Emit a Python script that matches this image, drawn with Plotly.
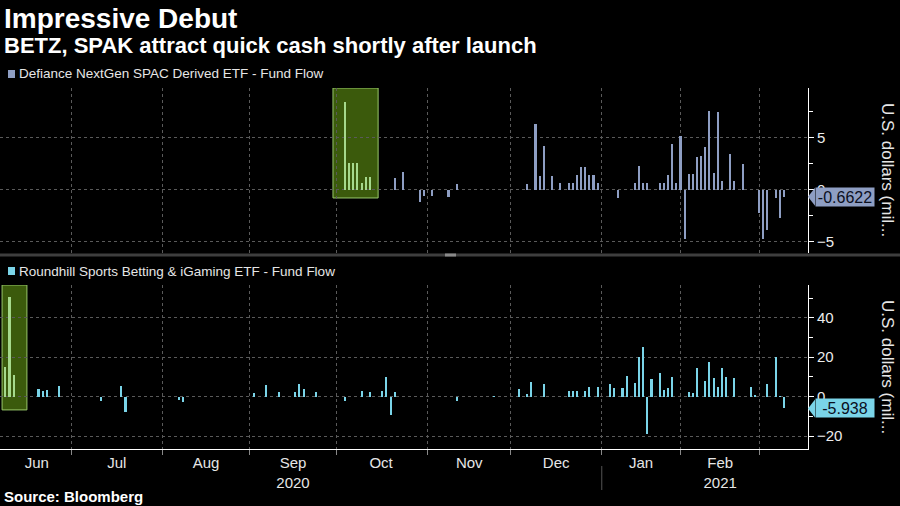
import plotly.graph_objects as go

# ---------------- data ----------------
spak_dates = ["2020-10-05", "2020-10-06", "2020-10-07", "2020-10-08", "2020-10-09", "2020-10-12",
              "2020-10-13", "2020-10-21", "2020-10-23", "2020-10-29", "2020-10-30", "2020-11-03",
              "2020-11-09", "2020-11-11", "2020-12-07", "2020-12-09", "2020-12-10", "2020-12-11",
              "2020-12-15", "2020-12-17", "2020-12-21", "2020-12-22", "2020-12-23", "2020-12-24",
              "2020-12-28", "2020-12-29", "2020-12-30", "2020-12-31", "2021-01-08", "2021-01-14",
              "2021-01-15", "2021-01-19", "2021-01-20", "2021-01-25", "2021-01-26", "2021-01-27",
              "2021-01-28", "2021-01-29", "2021-02-01", "2021-02-02", "2021-02-03", "2021-02-04",
              "2021-02-05", "2021-02-08", "2021-02-09", "2021-02-10", "2021-02-11", "2021-02-12",
              "2021-02-16", "2021-02-18", "2021-02-19", "2021-02-23", "2021-03-01", "2021-03-02",
              "2021-03-03", "2021-03-05", "2021-03-08", "2021-03-09"]
spak_flow = [8.49, 2.57, 2.57, 2.57, 0.64, 1.28,
             1.28, 1.18, 1.76, -1.12, -0.58, -0.58,
             -0.64, 0.55, 0.58, 6.35, 1.38, 4.23,
             1.38, 0.67, 0.67, 0.67, 1.44, 2.21,
             2.21, 1.44, 1.44, 0.67, -0.74, 0.67,
             2.31, 0.67, 0.67, 0.67, 0.67, 1.44,
             4.42, 0.67, 5.22, -4.71, 1.51, 1.51,
             3.20, 3.27, 4.13, 7.60, 1.60, 7.53,
             0.84, 3.43, 0.84, 2.50, -2.24, -4.71,
             -3.85, -0.74, -2.72, -0.6622]

betz_dates = ["2020-06-09", "2020-06-10", "2020-06-11", "2020-06-19", "2020-06-22", "2020-06-23",
              "2020-06-26", "2020-07-13", "2020-07-20", "2020-07-21", "2020-08-07", "2020-08-10",
              "2020-09-02", "2020-09-08", "2020-09-11", "2020-09-17", "2020-09-18", "2020-09-21",
              "2020-09-24", "2020-10-05", "2020-10-09", "2020-10-13", "2020-10-16", "2020-10-19",
              "2020-10-20", "2020-10-21", "2020-11-11", "2020-11-24", "2020-12-03", "2020-12-07",
              "2020-12-08", "2020-12-11", "2020-12-21", "2020-12-22", "2020-12-23", "2020-12-28",
              "2020-12-29", "2020-12-31", "2021-01-06", "2021-01-07", "2021-01-11", "2021-01-12",
              "2021-01-14", "2021-01-15", "2021-01-19", "2021-01-20", "2021-01-21", "2021-01-25",
              "2021-01-26", "2021-01-27", "2021-01-28", "2021-02-03", "2021-02-04", "2021-02-05",
              "2021-02-09", "2021-02-10", "2021-02-11", "2021-02-12", "2021-02-16", "2021-02-17",
              "2021-02-19", "2021-02-25", "2021-02-26", "2021-03-03", "2021-03-05", "2021-03-08",
              "2021-03-09"]
betz_flow = [14.8, 50.5, 11.1, 4.05, 3.0, 3.4,
             5.2, -2.4, 5.5, -8.0, -1.7, -2.9,
             1.8, 6.0, 2.4, 2.2, 6.4, 4.05,
             2.2, -2.4, 3.0, 2.4, 3.0, 10.0,
             -9.5, 2.5, -2.4, 0.3, 3.7, 1.4,
             7.4, 6.5, 3.0, 3.0, 3.0, 3.0,
             4.8, 4.8, 6.3, 4.3, 4.3, 10.5,
             6.8, 20.0, 25.2, -18.9, 9.0, 11.9,
             3.2, 4.4, 10.1, 2.5, 1.7, 14.3,
             7.9, 17.4, 9.4, 4.9, 14.3, 9.8,
             9.4, 4.9, 0.85, 6.6, 20.1, 0.3,
             -5.938]

spak_last = "-0.6622"
betz_last = "-5.938"

holidays = ["2020-07-03", "2020-09-07", "2020-11-26", "2020-12-25",
            "2021-01-01", "2021-01-18", "2021-02-15"]
month_starts = ["2020-07-01", "2020-08-03", "2020-09-01", "2020-10-01", "2020-11-02",
                "2020-12-01", "2021-01-04", "2021-02-01", "2021-03-01"]
month_label_pos = ["2020-06-18 14:00", "2020-07-16 22:00", "2020-08-17 11:00", "2020-09-16 11:00",
                   "2020-10-15 17:00", "2020-11-16 00:00", "2020-12-16 00:00", "2021-01-15 12:00",
                   "2021-02-12 14:00"]
month_labels = ["Jun", "Jul", "Aug", "Sep<br>2020", "Oct", "Nov", "Dec", "Jan", "Feb<br>2021"]

spak_highlight = ("2020-09-30 02:24", "2020-10-15 00:00")
betz_highlight = ("2020-06-08 05:00", "2020-06-16 05:00")

# ---------------- layout helpers ----------------
W, H = 900, 506
ML, MR, MT, MB = 0, 92, 88, 57
PW = W - ML - MR
PH = H - MT - MB


def px(x):
    return (x - ML) / PW


def py(y):
    return (H - MB - y) / PH


BG = "#000000"
GRID = "#5a5a5a"
SPAK_C = "#8e9ec3"
BETZ_C = "#7ad4e8"
HL_BAR = "#a6d98c"
HL_FILL = "#3b5a0c"
HL_LINE = "#98c86a"
FONT = "Liberation Sans, Arial, sans-serif"
DAY_MS = 86400000

x_range = ["2020-06-05 17:00", "2021-03-16 19:00"]
rb = [dict(bounds=["sat", "mon"]), dict(values=holidays)]


def colors(dates, window, base):
    return [HL_BAR if window[0] <= d <= window[1] else base for d in dates]


fig = go.Figure()
fig.add_trace(go.Bar(x=spak_dates, y=spak_flow, xaxis="x", yaxis="y",
                     marker=dict(color=colors(spak_dates, spak_highlight, SPAK_C), line_width=0),
                     width=0.5 * DAY_MS, showlegend=False))
fig.add_trace(go.Bar(x=betz_dates, y=betz_flow, xaxis="x2", yaxis="y2",
                     marker=dict(color=colors(betz_dates, betz_highlight, BETZ_C), line_width=0),
                     width=0.5 * DAY_MS, showlegend=False))

yaxis_common = dict(side="right", showline=True, linecolor="#ffffff", linewidth=1,
                    ticks="outside", ticklen=5, tickcolor="#ffffff",
                    tickfont=dict(family=FONT, size=15, color="#ececec"),
                    showgrid=True, gridcolor=GRID, griddash="dot", gridwidth=1,
                    zeroline=False, fixedrange=True)

fig.update_layout(
    width=W, height=H, paper_bgcolor=BG, plot_bgcolor=BG,
    margin=dict(l=ML, r=MR, t=MT, b=MB),
    bargap=0, showlegend=False,
    xaxis=dict(domain=[0, 1], anchor="y", type="date", range=x_range, rangebreaks=rb,
               tickmode="array", tickvals=month_starts, showticklabels=False, ticks="",
               showgrid=True, gridcolor=GRID, griddash="dot", zeroline=False, showline=False),
    xaxis2=dict(domain=[0, 1], anchor="y2", type="date", range=x_range, rangebreaks=rb,
                matches="x",
                tickmode="array", tickvals=month_label_pos, ticktext=month_labels, ticks="",
                tickfont=dict(family=FONT, size=15, color="#e6e6e6"),
                showgrid=False, zeroline=False,
                showline=True, linecolor="#ffffff", linewidth=1,
                minor=dict(tickmode="array", tickvals=month_starts, ticks="outside", ticklen=5,
                           tickcolor="#888888", showgrid=True, gridcolor=GRID, griddash="dot")),
    yaxis=dict(domain=[py(253), 1], anchor="x", range=[-6.06, 9.8],
               tickmode="array", tickvals=[-5, 0, 5],
               minor=dict(dtick=2.5, ticks="outside", ticklen=4, tickcolor="#ffffff", showgrid=False),
               **yaxis_common),
    yaxis2=dict(domain=[0, py(285)], anchor="x2", range=[-26.5, 56.6],
                tickmode="array", tickvals=[-20, 0, 20, 40],
                minor=dict(dtick=10, ticks="outside", ticklen=4, tickcolor="#ffffff", showgrid=False),
                **yaxis_common),
)

shapes = []
# highlight boxes
shapes.append(dict(type="rect", xref="x", yref="y", x0=spak_highlight[0], x1=spak_highlight[1],
                   y0=-0.77, y1=9.8, fillcolor=HL_FILL, line=dict(color=HL_LINE, width=1),
                   layer="below"))
shapes.append(dict(type="rect", xref="x2", yref="y2", x0=betz_highlight[0], x1=betz_highlight[1],
                   y0=-6.7, y1=56.6, fillcolor=HL_FILL, line=dict(color=HL_LINE, width=1),
                   layer="below"))
# separator between panels
shapes.append(dict(type="line", xref="paper", yref="paper", x0=0, x1=px(900), y0=py(255), y1=py(255),
                   line=dict(color="#3e3e3e", width=3)))
shapes.append(dict(type="line", xref="paper", yref="paper", x0=px(445), x1=px(456), y0=py(255), y1=py(255),
                   line=dict(color="#8a8a8a", width=3)))
# year divider
shapes.append(dict(type="line", xref="x2", yref="paper", x0="2021-01-04", x1="2021-01-04",
                   y0=py(466), y1=py(490), line=dict(color="#555555", width=1)))
# legend squares
shapes.append(dict(type="rect", xref="paper", yref="paper", x0=px(8), x1=px(15), y0=py(78), y1=py(70),
                   fillcolor=SPAK_C, line_width=0))
shapes.append(dict(type="rect", xref="paper", yref="paper", x0=px(8), x1=px(15), y0=py(275), y1=py(267),
                   fillcolor=BETZ_C, line_width=0))
# pointer triangles of the last-value labels
for yref, val, col in (("y", float(spak_last), SPAK_C), ("y2", float(betz_last), BETZ_C)):
    shapes.append(dict(type="path", xref="paper", xsizemode="pixel", xanchor=px(815),
                       yref=yref, ysizemode="pixel", yanchor=val,
                       path="M 0,9 L -7,0 L 0,-9 Z", fillcolor=col, line_width=0))
fig.update_layout(shapes=shapes)

ann = []
ann.append(dict(text="<b>Impressive Debut</b>", xref="paper", yref="paper", x=px(2), y=py(18),
                xanchor="left", yanchor="middle", showarrow=False,
                font=dict(family=FONT, size=28, color="#ffffff")))
ann.append(dict(text="<b>BETZ, SPAK attract quick cash shortly after launch</b>", xref="paper", yref="paper",
                x=px(2), y=py(45), xanchor="left", yanchor="middle", showarrow=False,
                font=dict(family=FONT, size=22, color="#ffffff")))
ann.append(dict(text="Defiance NextGen SPAC Derived ETF - Fund Flow", xref="paper", yref="paper",
                x=px(17), y=py(74), xanchor="left", yanchor="middle", showarrow=False,
                font=dict(family=FONT, size=13.5, color="#e6e6e6")))
ann.append(dict(text="Roundhill Sports Betting & iGaming ETF - Fund Flow", xref="paper", yref="paper",
                x=px(17), y=py(271), xanchor="left", yanchor="middle", showarrow=False,
                font=dict(family=FONT, size=13.5, color="#e6e6e6")))
ann.append(dict(text="<b>Source: Bloomberg</b>", xref="paper", yref="paper", x=px(2), y=py(496),
                xanchor="left", yanchor="middle", showarrow=False,
                font=dict(family=FONT, size=15, color="#ffffff")))
for yc in (170, 367):
    ann.append(dict(text="U.S. dollars (mil...", xref="paper", yref="paper", x=px(888), y=py(yc),
                    xanchor="center", yanchor="middle", textangle=90, showarrow=False,
                    font=dict(family=FONT, size=17, color="#e6e6e6")))
for yref, val, col in (("y", spak_last, SPAK_C), ("y2", betz_last, BETZ_C)):
    ann.append(dict(text=val, xref="paper", yref=yref, x=px(815), y=float(val),
                    xanchor="left", yanchor="middle", showarrow=False, bgcolor=col,
                    width=58, height=18, borderpad=0,
                    font=dict(family=FONT, size=16, color="#0b0f1e")))
fig.update_layout(annotations=ann)

fig.write_html("out.html", config={"displayModeBar": False},
               post_script="document.body.style.margin='0';document.body.style.padding='0';"
                           "document.body.style.background='#000';document.body.style.overflow='hidden';")
